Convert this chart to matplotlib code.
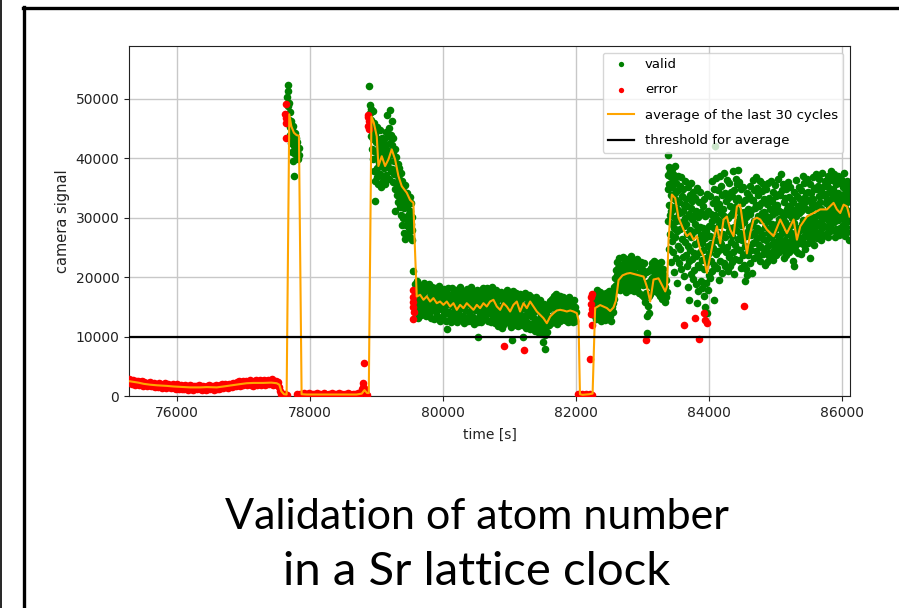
import numpy as np
import matplotlib
matplotlib.use("Agg")
import matplotlib.pyplot as plt
from matplotlib.lines import Line2D

# ---- data: time [s], camera signal ----
# error cycles, low signal before the first spike
err_a_t = [75285, 75298, 75314, 75330, 75343, 75358, 75375, 75389, 75402, 75418,
           75433, 75447, 75463, 75478, 75491, 75507, 75522, 75536, 75551, 75566,
           75580, 75596, 75611, 75624, 75640, 75655, 75669, 75684, 75700, 75713,
           75729, 75744, 75758, 75773, 75789, 75802, 75817, 75833, 75847, 75862,
           75877, 75891, 75906, 75921, 75935, 75951, 75966, 75980, 75995, 76011,
           76024, 76039, 76055, 76069, 76084, 76099, 76113, 76128, 76144, 76158,
           76173, 76188, 76202, 76217, 76233, 76246, 76261, 76277, 76291, 76306,
           76321, 76335, 76350, 76366, 76380, 76395, 76410, 76424, 76439, 76455,
           76468, 76483, 76499, 76513, 76528, 76543, 76557, 76572, 76588, 76602,
           76617, 76632, 76646, 76661, 76677, 76690, 76705, 76721, 76735, 76750,
           76765, 76779, 76794, 76810, 76824, 76839, 76854, 76868, 76883, 76899,
           76912, 76927, 76943, 76957, 76972, 76987, 77001, 77016, 77032, 77046,
           77061, 77076, 77090, 77105, 77121, 77134, 77149, 77165, 77179, 77194,
           77209, 77223, 77238, 77254, 77268, 77283, 77298, 77312, 77327, 77343,
           77356, 77371, 77387, 77401, 77416, 77431, 77445, 77460, 77476, 77490,
           77505, 77520, 77534, 77548]
err_a_y = [2800, 2200, 2650, 2050, 2700, 2300, 1900, 2600, 2150, 2500,
           1800, 2400, 2050, 2450, 1700, 2300, 1950, 2250, 1650, 2200,
           1800, 2350, 1600, 2050, 1750, 2250, 1500, 2100, 1850, 1450,
           2150, 1700, 2050, 1400, 1900, 1650, 2150, 1350, 1800, 2050,
           1450, 1900, 1300, 1750, 2000, 1350, 1700, 1200, 1950, 1550,
           1800, 1150, 1650, 1900, 1250, 1600, 1100, 1800, 1400, 1700,
           1050, 1550, 1850, 1200, 1600, 1000, 1750, 1350, 1650, 1100,
           1500, 1800, 1150, 1600, 1050, 1750, 1300, 1550, 1000, 1700,
           1250, 1850, 1150, 1600, 1400, 1750, 1050, 1500, 1900, 1250,
           1650, 1150, 1800, 1400, 1950, 1300, 1750, 2050, 1450, 1850,
           1350, 2100, 1650, 2000, 1500, 2250, 1750, 2100, 1600, 2300,
           1850, 2450, 1750, 2200, 1900, 2550, 1800, 2350, 1950, 2600,
           1850, 2400, 2000, 2650, 1900, 2300, 1750, 2550, 2050, 2700,
           1850, 2400, 2000, 2650, 1900, 2500, 2150, 2750, 1900, 2450,
           2050, 2700, 1950, 2500, 2150, 2800, 1900, 2550, 2000, 2450,
           1850, 2300, 1500, 900]

# error cycles with (almost) no atoms
err_zero_t = [77560, 77575, 77590, 77605, 77620, 77640, 77655,
              77805, 77830, 77855, 77880, 77905, 77930, 77955, 77980, 78005, 78030,
              78055, 78080, 78105, 78130, 78155, 78180, 78205, 78230, 78255, 78280,
              78305, 78330, 78355, 78380, 78405, 78430, 78455, 78480, 78505, 78530,
              78555, 78580, 78605, 78630, 78655, 78680, 78705, 78730, 78755, 78775,
              78790, 78800, 78804, 78812, 78819, 78830, 78845, 78860,
              82030, 82060, 82090, 82120, 82150, 82180, 82210, 82213, 82240]
err_zero_y = [400, 200, 350, 150, 300, 250, 100,
              350, 150, 400, 250, 500, 200, 350, 450, 150, 300,
              400, 200, 500, 250, 350, 150, 450, 300, 200, 400,
              250, 500, 150, 350, 300, 450, 200, 400, 250, 350,
              150, 450, 300, 200, 400, 350, 250, 500, 300, 700,
              1100, 1500, 2140, 1300, 5600, 900, 400, 250,
              300, 200, 350, 150, 300, 250, 400, 6190, 200]

# error cycles right after each jump in signal
err_jump_t = [77632, 77636, 77640, 77644, 77640, 78875, 78879, 78881, 78877, 78883,
              79548, 79550, 79553, 79555, 79556, 79558, 82225, 82228, 82232, 82238,
              82240, 82245]
err_jump_y = [47400, 46700, 49060, 46000, 43400, 47300, 46900, 46200, 45500, 44900,
              16700, 17870, 15060, 12980, 15900, 14220, 16700, 13800, 15500, 14600,
              17200, 12000]

# isolated error outliers
err_out_t = [80920, 81221, 83056, 83617, 83793, 83857, 83918, 83943, 83968, 84530]
err_out_y = [8430, 7755, 9440, 11970, 13095, 9560, 13940, 12814, 12252, 15062]

# valid cycles, first spike
val_b_t = [77660, 77665, 77670, 77675, 77680, 77690, 77695, 77700, 77705, 77710,
           77720, 77725, 77730, 77740, 77745, 77750, 77760, 77765, 77770, 77780,
           77790, 77800, 77810, 77820, 77830, 77840]
val_b_y = [50300, 52400, 51300, 48800, 46500, 49300, 45200, 44000, 47800, 42500,
           46200, 41000, 44800, 43300, 39500, 45500, 42000, 37100, 44300, 40800,
           43500, 41500, 42800, 39800, 41800, 40500]

# valid cycles, second spike
val_d_t = [78895, 78902, 78905, 78910, 78914, 78920, 78925, 78931, 78937, 78942,
           78948, 78953, 78959, 78964, 78970, 78975, 78981, 78986, 78992, 78997,
           79003, 79008, 79014, 79019, 79025, 79030, 79036, 79041, 79047, 79052,
           79058, 79063, 79069, 79074, 79080, 79085, 79091, 79096, 79102, 79107,
           79113, 79118, 79124, 79129, 79135, 79140, 79146, 79151, 79157, 79162,
           79168, 79173, 79179, 79184, 79190, 79195, 79201, 79206, 79212, 79217,
           79223, 79228, 79234, 79239, 79245, 79250, 79256, 79261, 79267, 79272,
           79278, 79283, 79289, 79294, 79300, 79305, 79311, 79316, 79322, 79327,
           79333, 79338, 79344, 79349, 79355, 79360, 79366, 79371, 79377, 79382,
           79388, 79393, 79399, 79404, 79410, 79415, 79421, 79426, 79432, 79437,
           79443, 79448, 79454, 79459, 79465, 79470, 79476, 79481, 79487, 79492,
           79498, 79503, 79509, 79514, 79520, 79525, 79531, 79536, 79542, 79546]
val_d_y = [52150, 49000, 47650, 45200, 48300, 43800, 46500, 41500, 44600, 47900,
           39800, 43200, 45900, 37800, 41200, 44100, 36200, 32800, 40100, 42800,
           38300, 45300, 36800, 40900, 43300, 35700, 39200, 42000, 37400, 44800,
           38800, 41800, 35200, 40400, 43500, 37000, 39700, 42600, 36100, 40700,
           38300, 43200, 35600, 41100, 39000, 44400, 37200, 42300, 40000, 47300,
           38500, 43700, 41200, 36600, 45100, 39500, 42500, 48200, 37900, 44000,
           40700, 46200, 38200, 42200, 36000, 40800, 43500, 37300, 39600, 34800,
           41600, 31100, 38000, 35800, 40200, 33900, 37200, 35000, 39100, 32600,
           36500, 34300, 38400, 31800, 35700, 33200, 37600, 30500, 34600, 28800,
           36200, 32400, 35100, 29900, 33800, 27500, 31600, 35500, 30200, 26400,
           33200, 28700, 31900, 27000, 34100, 29400, 32300, 26900, 30700, 28300,
           33500, 27800, 31200, 29000, 32400, 26600, 30100, 28000, 26300, 20960]

# valid cycles, long plateau around 15000
val_e_t = [79575, 79582, 79590, 79597, 79605, 79612, 79620, 79627, 79635, 79642,
           79650, 79657, 79665, 79672, 79680, 79687, 79695, 79702, 79710, 79717,
           79725, 79732, 79740, 79747, 79755, 79762, 79770, 79777, 79785, 79792,
           79800, 79807, 79815, 79822, 79830, 79837, 79845, 79852, 79860, 79867,
           79875, 79882, 79890, 79897, 79905, 79912, 79920, 79927, 79935, 79942,
           79950, 79957, 79965, 79972, 79980, 79987, 79995, 80002, 80010, 80017,
           80025, 80032, 80040, 80047, 80055, 80058, 80062, 80070, 80077, 80085,
           80092, 80100, 80107, 80115, 80122, 80130, 80137, 80145, 80152, 80160,
           80167, 80175, 80182, 80190, 80197, 80205, 80212, 80220, 80227, 80235,
           80242, 80250, 80257, 80265, 80272, 80280, 80287, 80295, 80302, 80310,
           80317, 80325, 80332, 80340, 80347, 80355, 80362, 80370, 80377, 80385,
           80392, 80400, 80407, 80415, 80422, 80430, 80437, 80445, 80452, 80460,
           80467, 80475, 80482, 80490, 80497, 80505, 80512, 80520, 80527, 80534,
           80540, 80547, 80555, 80562, 80570, 80577, 80585, 80592, 80600, 80607,
           80615, 80622, 80630, 80637, 80645, 80652, 80660, 80667, 80675, 80682,
           80690, 80697, 80705, 80712, 80720, 80727, 80735, 80742, 80750, 80757,
           80765, 80772, 80780, 80787, 80795, 80802, 80810, 80817, 80825, 80832,
           80840, 80847, 80855, 80862, 80870, 80877, 80885, 80892, 80900, 80907,
           80915, 80922, 80930, 80937, 80945, 80952, 80960, 80967, 80975, 80982,
           80990, 80997, 81005, 81012, 81020, 81027, 81035, 81036, 81042, 81050,
           81057, 81065, 81072, 81080, 81087, 81095, 81102, 81110, 81117, 81125,
           81132, 81140, 81147, 81155, 81162, 81170, 81177, 81185, 81192, 81200,
           81207, 81211, 81215, 81222, 81230, 81237, 81245, 81252, 81260, 81267,
           81275, 81282, 81290, 81297, 81305, 81312, 81320, 81327, 81335, 81342,
           81350, 81357, 81365, 81372, 81380, 81387, 81395, 81402, 81410, 81417,
           81425, 81432, 81440, 81447, 81455, 81462, 81470, 81477, 81485, 81492,
           81500, 81507, 81511, 81515, 81522, 81530, 81536, 81537, 81545, 81552,
           81560, 81567, 81575, 81582, 81590, 81597, 81605, 81612, 81620, 81627,
           81635, 81642, 81650, 81657, 81665, 81672, 81680, 81687, 81695, 81702,
           81710, 81717, 81725, 81732, 81740, 81747, 81755, 81762, 81770, 81777,
           81785, 81792, 81800, 81807, 81815, 81822, 81830, 81837, 81845, 81852,
           81860, 81867, 81875, 81882, 81890, 81897, 81905, 81912, 81920, 81927,
           81935, 81942, 81950, 81957, 81965, 81972, 81980, 81987, 81995]
val_e_y = [18800, 16200, 14100, 17500, 19400, 15300, 13200, 17900, 16100, 18600,
           14600, 16900, 13700, 18200, 15500, 17300, 13900, 16600, 19000, 14800,
           17600, 15700, 13500, 18400, 16200, 14300, 17800, 15100, 18900, 13600,
           16700, 15200, 17400, 13100, 16000, 18300, 14500, 17100, 15600, 12900,
           16800, 18100, 14200, 15900, 17700, 13400, 16300, 14900, 18500, 15400,
           12700, 17200, 14700, 16500, 13300, 17900, 15100, 16900, 13800, 18000,
           14400, 16200, 12600, 17300, 15500, 11240, 13900, 16600, 18200, 14100,
           15800, 13000, 17000, 15300, 12400, 16400, 18100, 14000, 15700, 12800,
           17400, 14600, 16100, 13200, 17800, 15000, 12500, 16700, 14300, 17600,
           13600, 15900, 18300, 14800, 12900, 16500, 15200, 17200, 13500, 16000,
           12300, 17700, 14500, 16300, 13100, 18000, 15400, 12700, 16900, 14200,
           17300, 13700, 15600, 18400, 12600, 16200, 14900, 17100, 13300, 15800,
           12100, 17500, 14400, 16600, 13000, 17900, 15100, 12500, 16400, 10000,
           14700, 17600, 13800, 16000, 12400, 17200, 15000, 13400, 18200, 14600,
           16800, 12900, 15500, 17700, 13600, 16100, 14300, 18100, 12700, 16700,
           15200, 13900, 17400, 15800, 12500, 16400, 18300, 14100, 15600, 13200,
           17300, 14800, 16500, 12300, 17800, 15300, 13700, 16200, 11800, 17000,
           14400, 12600, 16600, 15000, 13300, 17500, 14000, 11400, 16300, 13500,
           15700, 12200, 17200, 14600, 16800, 12900, 15400, 17800, 13800, 16000,
           12400, 14900, 17300, 13100, 15900, 11600, 9440, 16600, 14200, 17700,
           12700, 15500, 13600, 16900, 14400, 12000, 17400, 15100, 13300, 16300,
           11700, 15700, 13900, 17100, 12500, 14700, 16400, 11900, 15300, 13400,
           16800, 10000, 12200, 15000, 17300, 13000, 14600, 11500, 16500, 13800,
           15600, 12300, 17000, 14100, 11200, 15900, 13500, 16700, 12100, 14800,
           11600, 16200, 13200, 15400, 10900, 14300, 16600, 12200, 14900, 11300,
           15800, 12800, 10600, 14700, 12000, 16100, 11000, 13600, 15200, 10400,
           12600, 14400, 9160, 11600, 15500, 12900, 7870, 10300, 14100, 11700,
           13400, 10800, 15300, 12400, 14600, 11900, 16000, 13200, 15200, 12300,
           14900, 16400, 12700, 15700, 13600, 16800, 12500, 15000, 13900, 17100,
           12200, 15400, 14200, 16500, 13000, 15800, 12600, 16900, 14500, 13300,
           16200, 15100, 12900, 16700, 14000, 15500, 12800, 16300, 14700, 13400,
           16000, 15200, 12500, 14800, 16600, 13700, 15300, 12700, 16100, 14300,
           13100, 15700, 12400, 14900, 16200, 13500, 15000, 12600, 14200]

# valid cycles, short step back at ~15000
val_f_t = [82268, 82275, 82283, 82290, 82298, 82305, 82313, 82320, 82328, 82335,
           82343, 82350, 82358, 82365, 82373, 82380, 82388, 82395, 82403, 82410,
           82418, 82425, 82433, 82440, 82448, 82455, 82463, 82470, 82478, 82485,
           82493, 82500, 82508, 82515, 82523, 82530, 82538, 82545, 82553, 82560,
           82568, 82575, 82583, 82590, 82598, 82605]
val_f_y = [15800, 13600, 17200, 14900, 12900, 16400, 14200, 17800, 13500, 15600,
           16900, 13100, 15200, 17500, 14000, 12700, 16200, 14600, 17100, 13300,
           15400, 16800, 12800, 14800, 17300, 13800, 15900, 14300, 16600, 13000,
           15100, 17600, 13400, 14500, 16300, 12600, 15000, 17000, 14100, 15700,
           18300, 16400, 19800, 17900, 21200, 18600]

# valid cycles, plateau around 20000
val_g_t = [82613, 82620, 82628, 82635, 82643, 82650, 82658, 82665, 82673, 82680,
           82688, 82695, 82703, 82710, 82718, 82725, 82733, 82740, 82748, 82755,
           82763, 82770, 82778, 82785, 82793, 82800, 82808, 82815, 82823, 82830,
           82838, 82845, 82853, 82860, 82868, 82875, 82883, 82890, 82898, 82905,
           82913, 82920, 82928, 82935, 82943, 82950, 82958, 82965, 82973, 82980,
           82988, 82995, 83003, 83010, 83018, 83025, 83033, 83040, 83048, 83055,
           83063, 83066, 83070, 83078, 83085, 83093, 83100, 83108, 83115, 83123,
           83130, 83138, 83145, 83153, 83160, 83168, 83175, 83183, 83190, 83198,
           83205, 83213, 83220, 83228, 83235, 83243, 83250, 83258, 83265, 83273,
           83280, 83288, 83295, 83303, 83310, 83318, 83325, 83333, 83340, 83348,
           83355, 83363]
val_g_y = [20300, 22600, 18400, 21500, 19300, 23200, 17800, 20900, 22100, 18900,
           21700, 19600, 23400, 18100, 20500, 22400, 19100, 21200, 17500, 23000,
           19800, 21800, 18300, 20700, 22800, 19000, 21400, 17900, 23600, 20200,
           18600, 22200, 19400, 21000, 17700, 22700, 20000, 18500, 21900, 19700,
           23100, 18200, 20600, 22000, 17300, 19900, 21600, 18800, 22500, 19200,
           17000, 21300, 18700, 20400, 16600, 22300, 19000, 15800, 20800, 17400,
           13400, 10570, 18900, 15200, 21100, 16800, 13900, 19300, 17200, 21500,
           18500, 22300, 19800, 17600, 21000, 18200, 22800, 20100, 17900, 21700,
           19000, 22400, 18600, 20600, 17300, 21900, 19500, 16900, 20800, 22600,
           18100, 19900, 16400, 21300, 18800, 17100, 20400, 15800, 18300, 16700,
           19600, 17500]

# valid cycles, high and noisy last part (first half)
val_h1_t = [83378, 83382, 83386, 83390, 83394, 83398, 83402, 83406, 83410, 83414,
            83418, 83422, 83426, 83430, 83434, 83438, 83442, 83446, 83450, 83454,
            83458, 83462, 83466, 83470, 83474, 83478, 83482, 83486, 83490, 83494,
            83498, 83502, 83506, 83510, 83514, 83517, 83522, 83527, 83532, 83537,
            83542, 83547, 83552, 83557, 83562, 83567, 83572, 83577, 83582, 83587,
            83592, 83597, 83602, 83607, 83612, 83617, 83622, 83627, 83632, 83637,
            83642, 83647, 83652, 83657, 83662, 83667, 83672, 83677, 83682, 83687,
            83692, 83697, 83702, 83707, 83712, 83717, 83722, 83727, 83732, 83737,
            83742, 83747, 83752, 83757, 83762, 83767, 83772, 83777, 83782, 83787,
            83792, 83797, 83802, 83807, 83812, 83818, 83822, 83827, 83832, 83837,
            83842, 83847, 83852, 83857, 83862, 83867, 83872, 83877, 83882, 83887,
            83892, 83897, 83902, 83907, 83912, 83917, 83922, 83927, 83932, 83937,
            83943, 83947, 83952, 83957, 83962, 83968, 83972, 83977, 83982, 83987,
            83992, 83997, 84002, 84007, 84012, 84017, 84022, 84027, 84032, 84037,
            84042, 84047, 84052, 84057, 84062, 84068, 84072, 84077, 84082, 84087,
            84094, 84097, 84102, 84107, 84112, 84117, 84122, 84127, 84132, 84137,
            84142, 84147, 84152, 84157, 84162, 84167, 84172, 84177, 84182, 84187,
            84192, 84197, 84202, 84207, 84212, 84217, 84222, 84227, 84232, 84237,
            84242, 84247, 84252, 84257, 84262, 84267, 84272, 84277, 84282, 84287,
            84292, 84297, 84302, 84307, 84312, 84319, 84322, 84327, 84332, 84337,
            84342, 84347, 84352, 84357, 84362, 84367, 84372, 84377, 84382, 84387,
            84392, 84397, 84402, 84407, 84412, 84417, 84422, 84427, 84432, 84437,
            84442, 84447, 84452, 84457, 84462, 84467, 84472, 84477, 84482, 84487,
            84492, 84497, 84502, 84507, 84512, 84517, 84522, 84527, 84532, 84537,
            84545, 84547, 84552, 84557, 84562, 84567, 84572, 84577, 84582, 84587,
            84592, 84597, 84602, 84607, 84612, 84617, 84622, 84627, 84632, 84637]
val_h1_y = [34800, 29500, 37200, 40630, 32100, 38600, 24800, 35600, 30400, 37900,
            27200, 33800, 36800, 22500, 31200, 38200, 29000, 35100, 26100, 33300,
            37400, 24200, 31800, 28300, 36300, 20800, 34200, 30000, 38700, 26800,
            33000, 23300, 35900, 29500, 31400, 19000, 27700, 34600, 25200, 37000,
            30800, 22300, 32700, 28100, 35300, 24700, 30900, 36800, 21400, 29300,
            33600, 26500, 31100, 23400, 34800, 28600, 20200, 32200, 25900, 30000,
            36100, 23800, 29000, 33100, 21900, 27200, 31900, 18300, 35200, 25300,
            16200, 30600, 22800, 33800, 28000, 24600, 31600, 20600, 35800, 26700,
            29800, 23100, 32800, 19700, 27600, 34300, 24100, 30500, 21200, 28900,
            33400, 25500, 18800, 31200, 23600, 15620, 27900, 35000, 22000, 30100,
            17600, 26100, 32600, 21700, 28400, 24300, 34300, 19300, 27100, 30900,
            22900, 25800, 18200, 32000, 24500, 28200, 16900, 33200, 21300, 26600,
            15060, 30300, 23200, 19100, 27800, 13940, 34000, 22500, 25200, 17800,
            31100, 20300, 28600, 24000, 33700, 19800, 27000, 30700, 22700, 25500,
            36200, 21000, 29400, 32500, 24900, 16190, 28300, 34900, 22100, 30400,
            42100, 26300, 33100, 23900, 36700, 27500, 31600, 21500, 29700, 34700,
            24400, 28800, 19600, 32300, 26000, 37100, 22800, 30800, 25600, 35400,
            20700, 29100, 33900, 24700, 31400, 27200, 37500, 22400, 30300, 26800,
            34100, 21800, 28700, 32800, 24300, 36300, 29900, 25000, 33300, 21100,
            30000, 27700, 35900, 23400, 31900, 21800, 28200, 34400, 25900, 30500,
            22600, 33600, 27000, 37800, 24200, 30900, 20500, 28500, 34700, 25400,
            31800, 23000, 36500, 27900, 32900, 24800, 35700, 29300, 38100, 26400,
            33400, 22900, 31200, 36000, 27400, 30100, 24600, 34800, 28700, 21600,
            32400, 26200, 30600, 23700, 35200, 27300, 31000, 22100, 29200, 25300,
            19280, 33000, 26900, 21400, 30200, 24100, 34200, 20300, 27800, 31500,
            23800, 28400, 33700, 25100, 30700, 22300, 35300, 27100, 31300, 24500]

# valid cycles, high and noisy last part (second half)
val_h2_t = [84645, 84647, 84652, 84657, 84662, 84667, 84672, 84677, 84682, 84687,
            84692, 84697, 84702, 84707, 84712, 84717, 84722, 84727, 84732, 84737,
            84742, 84747, 84752, 84757, 84762, 84767, 84772, 84777, 84782, 84787,
            84792, 84797, 84802, 84807, 84812, 84817, 84822, 84827, 84832, 84837,
            84842, 84847, 84852, 84857, 84862, 84867, 84872, 84877, 84882, 84887,
            84892, 84897, 84902, 84907, 84912, 84920, 84922, 84927, 84932, 84937,
            84942, 84947, 84952, 84957, 84962, 84967, 84972, 84977, 84982, 84987,
            84992, 84997, 85002, 85007, 85012, 85017, 85022, 85027, 85032, 85037,
            85042, 85047, 85052, 85057, 85062, 85067, 85072, 85077, 85082, 85087,
            85092, 85097, 85102, 85107, 85112, 85117, 85122, 85127, 85132, 85137,
            85142, 85147, 85152, 85157, 85162, 85167, 85172, 85177, 85182, 85187,
            85192, 85197, 85202, 85207, 85212, 85217, 85222, 85227, 85232, 85237,
            85242, 85247, 85252, 85257, 85262, 85267, 85272, 85277, 85282, 85287,
            85292, 85297, 85302, 85307, 85312, 85317, 85322, 85327, 85332, 85337,
            85342, 85347, 85352, 85357, 85362, 85367, 85372, 85377, 85382, 85387,
            85392, 85397, 85402, 85407, 85412, 85417, 85422, 85427, 85432, 85437,
            85442, 85447, 85452, 85457, 85462, 85467, 85472, 85477, 85482, 85487,
            85492, 85497, 85502, 85507, 85512, 85517, 85522, 85527, 85532, 85537,
            85542, 85547, 85552, 85557, 85562, 85567, 85572, 85577, 85582, 85587,
            85592, 85597, 85602, 85607, 85612, 85617, 85622, 85627, 85632, 85637,
            85642, 85647, 85652, 85657, 85662, 85667, 85672, 85677, 85682, 85687,
            85692, 85697, 85702, 85707, 85712, 85717, 85722, 85727, 85732, 85737,
            85742, 85747, 85752, 85757, 85762, 85767, 85772, 85777, 85782, 85787,
            85792, 85797, 85802, 85807, 85812, 85817, 85822, 85827, 85832, 85837,
            85842, 85847, 85852, 85857, 85862, 85867, 85872, 85877, 85882, 85887,
            85892, 85897, 85902, 85907, 85912, 85917, 85922, 85927, 85932, 85937,
            85942, 85947, 85952, 85957, 85962, 85967, 85972, 85977, 85982, 85987,
            85992, 85997, 86002, 86007, 86012, 86017, 86022, 86027, 86032, 86037,
            86042, 86047, 86052, 86057, 86062, 86067, 86072, 86077, 86082, 86087,
            86092, 86097, 86102, 86107, 86112, 86117]
val_h2_y = [20680, 32900, 28800, 36400, 25700, 33000, 29400, 23200, 34600, 27600,
            31700, 26000, 36800, 24400, 32200, 28300, 35000, 26600, 30300, 23600,
            33800, 28000, 31900, 25400, 36200, 27700, 22800, 32400, 29600, 25000,
            34500, 27300, 30800, 23900, 35600, 26500, 31000, 24000, 33100, 28500,
            22000, 30500, 26200, 34900, 24800, 29500, 32300, 22600, 27400, 35800,
            25300, 30200, 23500, 33300, 28100, 23210, 31400, 26700, 36100, 24000,
            29000, 32800, 25600, 30600, 22900, 34400, 27900, 24500, 31800, 28600,
            35500, 26000, 30900, 23700, 33600, 28900, 32100, 25200, 36600, 27000,
            31300, 24300, 34000, 29800, 26400, 33900, 28200, 37300, 25800, 31000,
            27500, 34700, 24600, 30100, 28800, 35700, 25500, 32600, 23300, 29300,
            33300, 26300, 30700, 23800, 34800, 27300, 31500, 25000, 36000, 28400,
            32000, 24200, 33500, 27800, 30400, 25900, 35100, 28700, 31700, 24800,
            33000, 26800, 30000, 22700, 32700, 27200, 21800, 34300, 29100, 25300,
            31200, 27400, 36400, 24400, 30300, 26100, 33700, 28300, 24000, 31900,
            27000, 35200, 25700, 30800, 28000, 33200, 26400, 31100, 23900, 34600,
            28900, 32400, 26200, 37000, 29600, 25600, 33400, 28100, 35800, 27100,
            31600, 24700, 34100, 29400, 32800, 26900, 36600, 28700, 31300, 25800,
            34400, 30000, 27600, 33000, 29000, 35600, 23210, 31500, 27900, 34200,
            26500, 32300, 29800, 36800, 27300, 33100, 30200, 25400, 35000, 28500,
            32100, 27700, 34900, 29300, 37400, 26600, 31800, 28800, 35300, 30500,
            26900, 33600, 29100, 36500, 27500, 32600, 30400, 34500, 26300, 31400,
            29700, 37600, 28200, 33900, 30800, 27000, 35400, 31000, 28600, 34000,
            29900, 36200, 27200, 32500, 30100, 35900, 28400, 33200, 31200, 37100,
            26800, 32000, 29400, 35000, 30600, 27700, 34300, 31700, 37800, 28900,
            33400, 30300, 36400, 27900, 32700, 34800, 29200, 37300, 31500, 26700,
            33800, 30700, 35600, 28100, 32900, 29800, 36900, 27400, 31900, 34100,
            29600, 37000, 30900, 27100, 33500, 31200, 35800, 28300, 32400, 30000,
            36600, 27800, 33000, 30600, 35100, 28700, 32200, 37500, 29900, 34000,
            26900, 31600, 35300, 28400, 33300, 30800, 36100, 27600, 32600, 29500,
            34700, 31100, 26200, 33600, 30300, 35500]

# average of the last 30 cycles
avg_t = [75280, 75340, 75420, 75500, 75600, 75700, 75850, 75950, 76100, 76200,
         76350, 76450, 76600, 76700, 76850, 76950, 77050, 77150, 77300, 77420,
         77500, 77540, 77570, 77610, 77650, 77690, 77720, 77760, 77800, 77835,
         77875, 77950, 78100, 78300, 78500, 78700, 78780, 78820, 78860, 78885,
         78925, 78960, 79005, 79030, 79080, 79130, 79180, 79230, 79281, 79331,
         79381, 79456, 79506, 79556, 79575, 79606, 79657, 79707, 79757, 79807,
         79857, 79907, 79957, 80007, 80058, 80108, 80158, 80208, 80258, 80308,
         80358, 80408, 80459, 80509, 80559, 80609, 80659, 80709, 80759, 80810,
         80860, 80910, 80960, 81010, 81060, 81110, 81160, 81211, 81261, 81311,
         81361, 81411, 81461, 81511, 81562, 81612, 81662, 81712, 81762, 81812,
         81862, 81913, 81963, 82013, 82038, 82060, 82100, 82150, 82200, 82250,
         82288, 82364, 82464, 82514, 82564, 82600, 82640, 82700, 82765, 82815,
         82915, 83016, 83066, 83116, 83166, 83241, 83291, 83342, 83370, 83392,
         83442, 83492, 83542, 83617, 83667, 83718, 83768, 83818, 83868, 83918,
         83968, 84018, 84068, 84119, 84169, 84219, 84269, 84319, 84369, 84419,
         84469, 84520, 84570, 84620, 84670, 84720, 84770, 84870, 84970, 85071,
         85171, 85272, 85322, 85372, 85472, 85572, 85673, 85773, 85873, 85923,
         85973, 86024, 86074, 86114]
avg_y = [2500, 2400, 2250, 2050, 1900, 1800, 1700, 1600, 1500, 1450,
         1450, 1500, 1450, 1600, 1850, 2000, 2150, 2200, 2200, 2250,
         2150, 1900, 800, 300, 250, 47400, 45400, 44300, 43900, 43800,
         300, 250, 250, 250, 250, 250, 400, 1000, 500, 500,
         47000, 46000, 43700, 38700, 40350, 38700, 39800, 41500, 39800, 37000,
         35300, 34200, 33000, 32500, 26000, 16750, 17030, 16190, 16750, 15900,
         16470, 15620, 15900, 15340, 15900, 15060, 15620, 14500, 15340, 14780,
         15620, 15060, 14500, 15340, 14780, 15620, 15060, 15900, 16190, 15060,
         14500, 15620, 15060, 14220, 15340, 15900, 14220, 15620, 14780, 15900,
         15060, 14220, 13660, 13100, 12250, 13380, 13940, 14390, 14500, 14390,
         14220, 14390, 14220, 13940, 12810, 300, 200, 250, 300, 400,
         14800, 15300, 14800, 14300, 14900, 16000, 19500, 20300, 20600, 20700,
         20400, 20100, 18400, 15900, 19600, 19800, 18700, 17600, 18500, 26300,
         33900, 33300, 30000, 28000, 26900, 27400, 26300, 26900, 24600, 23500,
         20700, 23500, 26300, 28550, 25700, 29700, 30200, 28000, 26900, 31900,
         32200, 28000, 24000, 27400, 29700, 30000, 29700, 28000, 26900, 29700,
         27400, 29700, 26300, 28550, 30200, 30800, 31400, 31400, 32500, 31400,
         30800, 32200, 31900, 30200]

threshold = 10000
x_ticks = [76000, 78000, 80000, 82000, 84000, 86000]
y_ticks = [0, 10000, 20000, 30000, 40000, 50000]
caption = ["Validation of atom number", "in a Sr lattice clock"]

valid_t = np.concatenate([val_b_t, val_d_t, val_e_t, val_f_t, val_g_t, val_h1_t, val_h2_t])
valid_y = np.concatenate([val_b_y, val_d_y, val_e_y, val_f_y, val_g_y, val_h1_y, val_h2_y])
error_t = np.concatenate([err_a_t, err_zero_t, err_jump_t, err_out_t])
error_y = np.concatenate([err_a_y, err_zero_y, err_jump_y, err_out_y])

# ---- figure ----
fig = plt.figure(figsize=(8.99, 6.08), dpi=100)
ax = fig.add_axes([129 / 899, 1 - 396 / 608, 721 / 899, 350 / 608])

ax.scatter(valid_t, valid_y, s=30, color="green", linewidths=0, label="valid", zorder=2)
ax.scatter(error_t, error_y, s=30, color="red", linewidths=0, label="error", zorder=3)
ax.plot(avg_t, avg_y, color="orange", lw=1.5, label="average of the last 30 cycles", zorder=4)
ax.axhline(threshold, color="black", lw=1.6, label="threshold for average", zorder=5)

ax.set_xlim(75280, 86120)
ax.set_ylim(0, 58900)
ax.set_xticks(x_ticks)
ax.set_yticks(y_ticks)
ax.tick_params(labelsize=10, colors="#222222")
ax.grid(True, color="#c8c8c8", lw=1.0)
ax.set_axisbelow(True)
for sp in ax.spines.values():
    sp.set_color("#222222")
ax.set_xlabel("time [s]", fontsize=10, color="#222222", labelpad=6)
ax.set_ylabel("camera signal", fontsize=10.5, color="#222222")

ax.legend(loc="upper right", fontsize=9.5, scatterpoints=1, markerscale=0.7,
          framealpha=0.8, borderaxespad=0.5, labelspacing=0.95)

# slide frame lines
fig.add_artist(Line2D([0.6 / 899, 0.6 / 899], [0, 1], color="black", lw=1.2,
                      transform=fig.transFigure))
fig.add_artist(Line2D([24 / 899, 24 / 899], [0, 1 - 7 / 608], color="black", lw=2.4,
                      transform=fig.transFigure))
fig.add_artist(Line2D([23 / 899, 1], [1 - 8 / 608, 1 - 8 / 608], color="black", lw=2.4,
                      transform=fig.transFigure))

fig.text(477 / 899, 1 - 529 / 608, caption[0], ha="center", va="baseline",
         fontsize=31, family="Lato")
fig.text(477 / 899, 1 - 585 / 608, caption[1], ha="center", va="baseline",
         fontsize=34, family="Lato")

fig.savefig("out.png", dpi=100)
